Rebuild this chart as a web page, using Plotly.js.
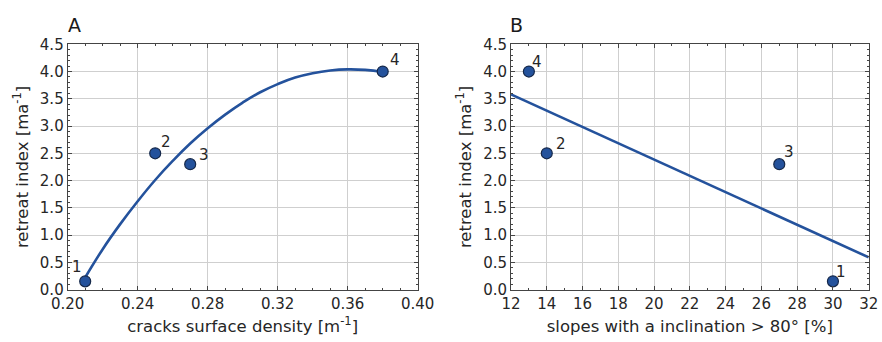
<!DOCTYPE html>
<html>
<head>
<meta charset="utf-8">
<script src="https://cdn.plot.ly/plotly-3.0.1.min.js"></script>
<style>html,body{margin:0;padding:0;background:#fff;}#chart{width:882px;height:342px;}</style>
</head>
<body>
<div id="chart"></div>
<script>
// Panel A data
const densityA = [0.21, 0.25, 0.27, 0.38];
const retreatA = [0.15, 2.5, 2.3, 4.0];
const labelsA = ["1", "2", "3", "4"];
// Fitted curve
const curveAx = [0.21, 0.22, 0.23, 0.24, 0.25, 0.26, 0.27, 0.28, 0.29, 0.30, 0.31, 0.32, 0.33, 0.34, 0.35, 0.36, 0.37, 0.38];
const curveAy = [0.22, 0.74, 1.20, 1.62, 2.01, 2.36, 2.68, 2.96, 3.21, 3.43, 3.62, 3.77, 3.89, 3.97, 4.02, 4.04, 4.03, 3.99];

// Panel B data
const slopesB = [30, 14, 27, 13];
const retreatB = [0.15, 2.5, 2.3, 4.0];
const labelsB = ["1", "2", "3", "4"];
const lineBx = [12, 32];
const lineBy = [3.58, 0.59];

// Label offsets (px) – styling only
const offA = [[-8, 14], [11, 11], [14, 9], [12, 12]];
const offB = [[8, 9], [14, 9], [10, 12], [8, 10]];

const blue = '#24529c';
const dark = '#262626';
const font = 'DejaVu Sans, Arial, sans-serif';

const traces = [
  {x: curveAx, y: curveAy, mode: 'lines', line: {color: blue, width: 2.6, shape: 'spline', smoothing: 1.3}, xaxis: 'x', yaxis: 'y', hoverinfo: 'skip'},
  {x: densityA, y: retreatA, mode: 'markers', marker: {color: blue, size: 11, line: {color: '#15284a', width: 1.2}}, xaxis: 'x', yaxis: 'y'},
  {x: lineBx, y: lineBy, mode: 'lines', line: {color: blue, width: 2.6}, xaxis: 'x2', yaxis: 'y2', hoverinfo: 'skip'},
  {x: slopesB, y: retreatB, mode: 'markers', marker: {color: blue, size: 11, line: {color: '#15284a', width: 1.2}}, xaxis: 'x2', yaxis: 'y2'}
];

const annotations = [];
labelsA.forEach((t, i) => annotations.push({x: densityA[i], y: retreatA[i], xref: 'x', yref: 'y', text: t, showarrow: false,
  xshift: offA[i][0], yshift: offA[i][1], font: {family: font, size: 15, color: dark}}));
labelsB.forEach((t, i) => annotations.push({x: slopesB[i], y: retreatB[i], xref: 'x2', yref: 'y2', text: t, showarrow: false,
  xshift: offB[i][0], yshift: offB[i][1], font: {family: font, size: 15, color: dark}}));
annotations.push({text: 'A', xref: 'paper', yref: 'paper', x: 66/882, y: 1 - 25/342, xanchor: 'left', yanchor: 'middle', showarrow: false, font: {family: font, size: 19, color: '#1a1a1a'}});
annotations.push({text: 'B', xref: 'paper', yref: 'paper', x: 508/882, y: 1 - 25/342, xanchor: 'left', yanchor: 'middle', showarrow: false, font: {family: font, size: 19, color: '#1a1a1a'}});

function yax(anchor) {
  return {
    anchor: anchor, domain: [1 - 289.5/342, 1 - 44.3/342], range: [0, 4.5], dtick: 0.5, tick0: 0, tickformat: '.1f',
    showgrid: true, gridcolor: '#cfcfcf', gridwidth: 1, zeroline: false,
    showline: true, linecolor: '#444', linewidth: 1, mirror: 'allticks',
    ticks: 'inside', ticklen: 4, tickcolor: '#444',
    minor: {dtick: 0.1, ticks: 'inside', ticklen: 2, tickcolor: '#444', showgrid: false},
    tickfont: {family: font, size: 15, color: dark},
    title: {text: 'retreat index [ma<sup>-1</sup>]', font: {family: font, size: 16.5, color: dark}, standoff: 7}
  };
}
function xax(anchor, dom, rng, dt, mdt, fmt, title) {
  return {
    anchor: anchor, domain: dom, range: rng, dtick: dt, tick0: rng[0], tickformat: fmt,
    showgrid: true, gridcolor: '#cfcfcf', gridwidth: 1, zeroline: false,
    showline: true, linecolor: '#444', linewidth: 1, mirror: 'allticks',
    ticks: 'inside', ticklen: 4, tickcolor: '#444',
    minor: {dtick: mdt, ticks: 'inside', ticklen: 2, tickcolor: '#444', showgrid: false},
    tickfont: {family: font, size: 15, color: dark},
    title: {text: title, font: {family: font, size: 16.5, color: dark}, standoff: 8}
  };
}

const layout = {
  width: 882, height: 342, autosize: false,
  margin: {l: 0, r: 0, t: 0, b: 0},
  paper_bgcolor: '#fff', plot_bgcolor: '#fff',
  showlegend: false,
  xaxis: xax('y', [67.7/882, 417.7/882], [0.2, 0.4], 0.04, 0.01, '.2f', 'cracks surface density [m<sup>-1</sup>]'),
  yaxis: yax('x'),
  xaxis2: xax('y2', [511/882, 868.7/882], [12, 32], 2, 1, 'd', 'slopes with a inclination > 80° [%]'),
  yaxis2: yax('x2'),
  annotations: annotations
};

Plotly.newPlot('chart', traces, layout, {staticPlot: true, displayModeBar: false});
</script>
</body>
</html>
